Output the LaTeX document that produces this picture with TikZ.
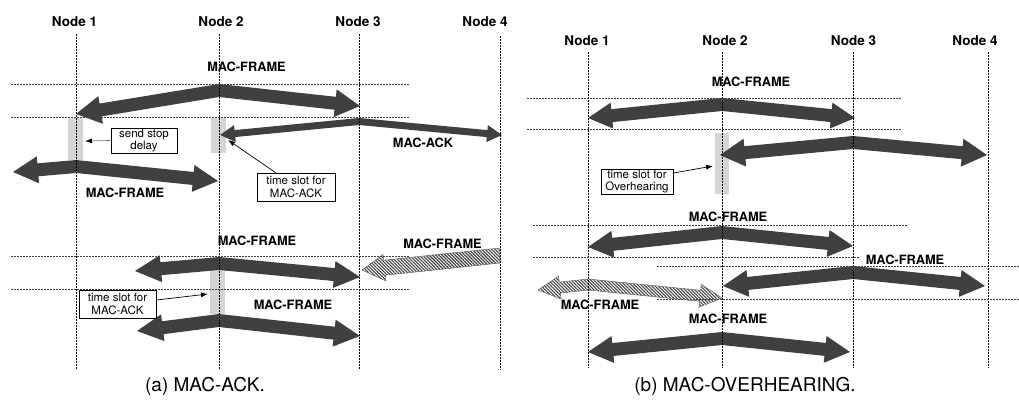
\documentclass[tikz,border=0pt]{standalone}
\usepackage{fontspec}
\setmainfont{TeX Gyre Heros}
\usetikzlibrary{calc,arrows.meta,patterns.meta}
% #1 style, #2 left tip, #3 apex centre, #4 right tip, #5 half shaft, #6 head length, #7 head half width
\newcommand\mydblarrow[7]{%
  \path ($(#2)!#6pt!(#3)$) coordinate (tmpbl) ($(#4)!#6pt!(#3)$) coordinate (tmpbr);
  \path[#1] (#2) -- ($(tmpbl)!#7pt!90:(#3)$) -- ($(tmpbl)!#5pt!90:(#3)$)
    -- ($(#3)+(0,-#5)$) -- ($(tmpbr)!#5pt!-90:(#3)$) -- ($(tmpbr)!#7pt!-90:(#3)$)
    -- (#4) -- ($(tmpbr)!#7pt!90:(#3)$) -- ($(tmpbr)!#5pt!90:(#3)$)
    -- ($(#3)+(0,#5)$) -- ($(tmpbl)!#5pt!-90:(#3)$) -- ($(tmpbl)!#7pt!-90:(#3)$) -- cycle;
}
\tikzset{
 lifeline/.style={draw=black, line width=0.6pt, dash pattern=on 2pt off 1pt},
 hline/.style={draw=black!75, line width=0.6pt, dash pattern=on 2pt off 1pt},
 nodelabel/.style={font=\fontsize{13.5}{16}\selectfont\bfseries, inner sep=0},
 msglabel/.style={font=\fontsize{12.8}{15}\selectfont\bfseries, inner sep=0},
 infobox/.style={draw, line width=0.8pt, font=\fontsize{11.5}{12.5}\selectfont, align=center, inner sep=0},
 slot/.style={fill=black!17},
 solidarrow/.style={fill=black!75},
 hatcharrow/.style={draw=black!60, line width=0.5pt, pattern={Lines[angle=-45,distance=2.3pt,line width=1.1pt]}, pattern color=black!75},
 pointer/.style={-{Latex[length=7pt,width=5pt]}, line width=0.7pt},
 caption/.style={font=\fontsize{19}{22}\selectfont, inner sep=0},
}
\begin{document}
\begin{tikzpicture}[x=1pt,y=-1pt]
\useasboundingbox (0,0) rectangle (1019,405);

% ---------------- left panel ----------------
\node[nodelabel] (la1) at (74.5,22) {Node 1};
\node[nodelabel] (la2) at (221,22) {Node 2};
\node[nodelabel] (la3) at (358,22) {Node 3};
\node[nodelabel] (la4) at (485,22) {Node 4};

% time slots
\fill[slot] (68,118) rectangle (83,160);
\fill[slot] (211,118) rectangle (226,153);
\fill[slot] (210,270) rectangle (225,314);

% arrows
\coordinate (a1l) at (76,114); \coordinate (a1c) at (219,90.5); \coordinate (a1r) at (360,106);
\mydblarrow{solidarrow}{a1l}{a1c}{a1r}{6.5}{25}{14}
\coordinate (a2l) at (220,135); \coordinate (a2c) at (359,121.5); \coordinate (a2r) at (502,135);
\mydblarrow{solidarrow}{a2l}{a2c}{a2r}{3.5}{15}{8.5}
\coordinate (a3l) at (13,172); \coordinate (a3c) at (76,166.5); \coordinate (a3r) at (218,181);
\mydblarrow{solidarrow}{a3l}{a3c}{a3r}{6.5}{25}{13.5}
\coordinate (a4l) at (135,271); \coordinate (a4c) at (219,263.5); \coordinate (a4r) at (360,277);
\mydblarrow{solidarrow}{a4l}{a4c}{a4r}{6.5}{26}{13.5}
\coordinate (a5l) at (137,331); \coordinate (a5c) at (219,320.5); \coordinate (a5r) at (360,336);
\mydblarrow{solidarrow}{a5l}{a5c}{a5r}{6.5}{26}{13.5}

% hatched single arrow from node 4
\path[hatcharrow] (362,270) -- (383.0,254.5) -- (383.6,260.2) -- (500,248) -- (500,263)
  -- (385.2,275.2) -- (385.8,280.9) -- cycle;

% labels
\node[msglabel] (m1) at (246.5,67) {MAC-FRAME};
\node[msglabel] (m2) at (423,143) {MAC-ACK};
\node[msglabel] (m3) at (125,193) {MAC-FRAME};
\node[msglabel] (m4) at (257,241) {MAC-FRAME};
\node[msglabel] (m5) at (442.5,243.5) {MAC-FRAME};
\node[msglabel] (m6) at (293,304.5) {MAC-FRAME};

% info boxes
\node[infobox, minimum width=66pt, minimum height=25pt] (bsend) at (144,140.5) {send stop\\delay};
\node[infobox, minimum width=78pt, minimum height=28pt] (bslot1) at (296,187) {time slot for\\MAC-ACK};
\node[infobox, minimum width=77pt, minimum height=28pt] (bslot2) at (117.5,304) {time slot for\\MAC-ACK};
\coordinate (ps1) at (85,141);
\coordinate (ps2) at (228,140);
\coordinate (ps3) at (208,294);
\draw[pointer, draw=black!55, -{Latex[length=7pt,width=5pt,color=black]}] (bsend.west) -- (ps1);
\draw[pointer] ([xshift=19pt]bslot1.north west) -- (ps2);
\draw[pointer] ([yshift=4pt]bslot2.east) -- (ps3);

% dashed grid
\coordinate (l1t) at (76,34);  \coordinate (l1b) at (76,370);
\coordinate (l2t) at (219,34); \coordinate (l2b) at (219,370);
\coordinate (l3t) at (359,34); \coordinate (l3b) at (359,370);
\coordinate (l4t) at (500,36); \coordinate (l4b) at (500,370);
\draw[lifeline] (l1t) -- (l1b);
\draw[lifeline] (l2t) -- (l2b);
\draw[lifeline] (l3t) -- (l3b);
\draw[lifeline] (l4t) -- (l4b);
\draw[hline] (11,84) -- (410,84);
\draw[hline] (11,117.5) -- (410,117.5);
\draw[hline] (11,256) -- (410,256);
\draw[hline] (11,289.5) -- (410,289.5);

% ---------------- right panel ----------------
\node[nodelabel] (lb1) at (587,41) {Node 1};
\node[nodelabel] (lb2) at (725,41) {Node 2};
\node[nodelabel] (lb3) at (853.5,41) {Node 3};
\node[nodelabel] (lb4) at (975,41) {Node 4};

\fill[slot] (715,133) rectangle (729,194);

\coordinate (r1l) at (588,118); \coordinate (r1c) at (722,104.5); \coordinate (r1r) at (855,118);
\mydblarrow{solidarrow}{r1l}{r1c}{r1r}{6.5}{24}{13}
\coordinate (r2l) at (720,155); \coordinate (r2c) at (853,142.5); \coordinate (r2r) at (987,155);
\mydblarrow{solidarrow}{r2l}{r2c}{r2r}{6.5}{25}{14}
\coordinate (r3l) at (588,247); \coordinate (r3c) at (722,232.5); \coordinate (r3r) at (853,246);
\mydblarrow{solidarrow}{r3l}{r3c}{r3r}{6.5}{25}{13.5}
\coordinate (r4l) at (723,286); \coordinate (r4c) at (853,272.5); \coordinate (r4r) at (985,286);
\mydblarrow{solidarrow}{r4l}{r4c}{r4r}{6.5}{25}{13.5}
\coordinate (r5l) at (588,352); \coordinate (r5c) at (722,338.5); \coordinate (r5r) at (850,352);
\mydblarrow{solidarrow}{r5l}{r5c}{r5r}{6.5}{25}{13.5}
\coordinate (rhl) at (538,290); \coordinate (rhc) at (588,284.5); \coordinate (rhr) at (722,298);
\mydblarrow{hatcharrow}{rhl}{rhc}{rhr}{5.5}{22}{11.5}

\node[msglabel] (n1) at (751,81.5) {MAC-FRAME};
\node[msglabel] (n3) at (728,216.5) {MAC-FRAME};
\node[msglabel] (n4) at (905,259.5) {MAC-FRAME};
\node[msglabel] (nh) at (600,304.5) {MAC-FRAME};
\node[msglabel] (n5) at (728,318.5) {MAC-FRAME};

\node[infobox, minimum width=72pt, minimum height=25pt] (bover) at (637,181.5) {time slot for\\Overhearing};
\coordinate (ps4) at (713,166);
\draw[pointer] ([yshift=8.5pt]bover.east) -- (ps4);

\coordinate (k1t) at (588,52);  \coordinate (k1b) at (588,368);
\coordinate (k2t) at (722,52);  \coordinate (k2b) at (722,368);
\coordinate (k3t) at (853,52);  \coordinate (k3b) at (853,368);
\coordinate (k4t) at (988,52);  \coordinate (k4b) at (988,368);
\draw[lifeline] (k1t) -- (k1b);
\draw[lifeline] (k2t) -- (k2b);
\draw[lifeline] (k3t) -- (k3b);
\draw[lifeline] (k4t) -- (k4b);
\draw[hline] (527,98) -- (902,98);
\draw[hline] (527,129) -- (902,129);
\draw[hline] (533,225) -- (908,225);
\draw[hline] (533,257) -- (860,257);
\draw[hline] (657,266) -- (1019,266);
\draw[hline] (657,299) -- (1019,299);

% captions
\node[caption] (capa) at (205,386) {(a) MAC-ACK.};
\node[caption] (capb) at (745,386) {(b) MAC-OVERHEARING.};
\end{tikzpicture}
\end{document}
